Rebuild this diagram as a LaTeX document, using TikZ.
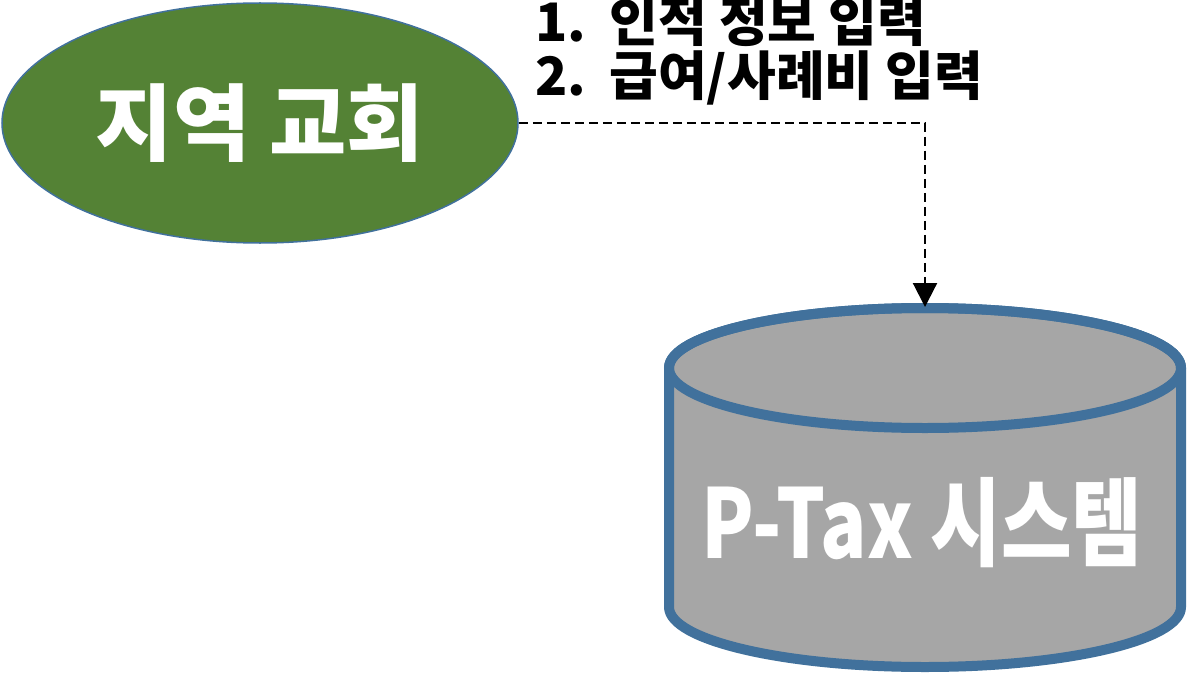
\documentclass[tikz,border=0pt]{standalone}
\usepackage{fontspec}
\setmainfont{Noto Sans CJK KR}
\usepackage{tikz}
\usetikzlibrary{arrows.meta, shapes.geometric, positioning}

\definecolor{churchgreen}{HTML}{548235}
\definecolor{edgeblue}{HTML}{41719C}
\definecolor{dbgray}{HTML}{A6A6A6}

\begin{document}
\begin{tikzpicture}[x=1pt,y=-1pt,>={Triangle[length=24pt,width=24pt]}]
            \tikzset{church/.style={ellipse, draw=edgeblue, line width=1.5pt, fill=churchgreen,
                       minimum width=516pt, minimum height=240pt, inner sep=0pt,
                       text=white, font=\fontsize{84}{90}\selectfont\bfseries}}
            \tikzset{dblabel/.style={text=white, inner sep=0pt, xscale=0.8, font=\fontsize{96}{100}\selectfont\bfseries}}
            \tikzset{steptext/.style={anchor=base west, inner sep=0pt, font=\fontsize{53}{55}\selectfont\bfseries}}
            \tikzset{flow/.style={->, dash pattern=on 9pt off 5pt, line width=2.2pt}}
            \useasboundingbox (0,0) rectangle (1188,674);
            \node[church] (church) at (260,123) {\raisebox{-6pt}{지역 교회}};
            % database cylinder
            \path[fill=dbgray, draw=edgeblue, line width=10pt, line join=round]
              (669,368) -- (669,607) arc[start angle=180, end angle=360, x radius=256pt, y radius=60pt]
              -- (1181,368) arc[start angle=0, end angle=180, x radius=256pt, y radius=60pt] -- cycle;
            \draw[edgeblue, line width=10pt] (925,368) ellipse[x radius=256pt, y radius=60pt];
            \coordinate (dbtop) at (925,307);
            \node[dblabel] (ptax) at (922,523) {P-Tax 시스템};
            \node[steptext] (step1) at (535,42) {\makebox[1.4em][l]{1.}인적 정보 입력};
            \node[steptext] (step2) at ([yshift=-54pt]step1.base west) {\makebox[1.4em][l]{2.}급여/사례비 입력};
            \draw[flow] (church.east) -| (dbtop);
        \end{tikzpicture}
\end{document}
